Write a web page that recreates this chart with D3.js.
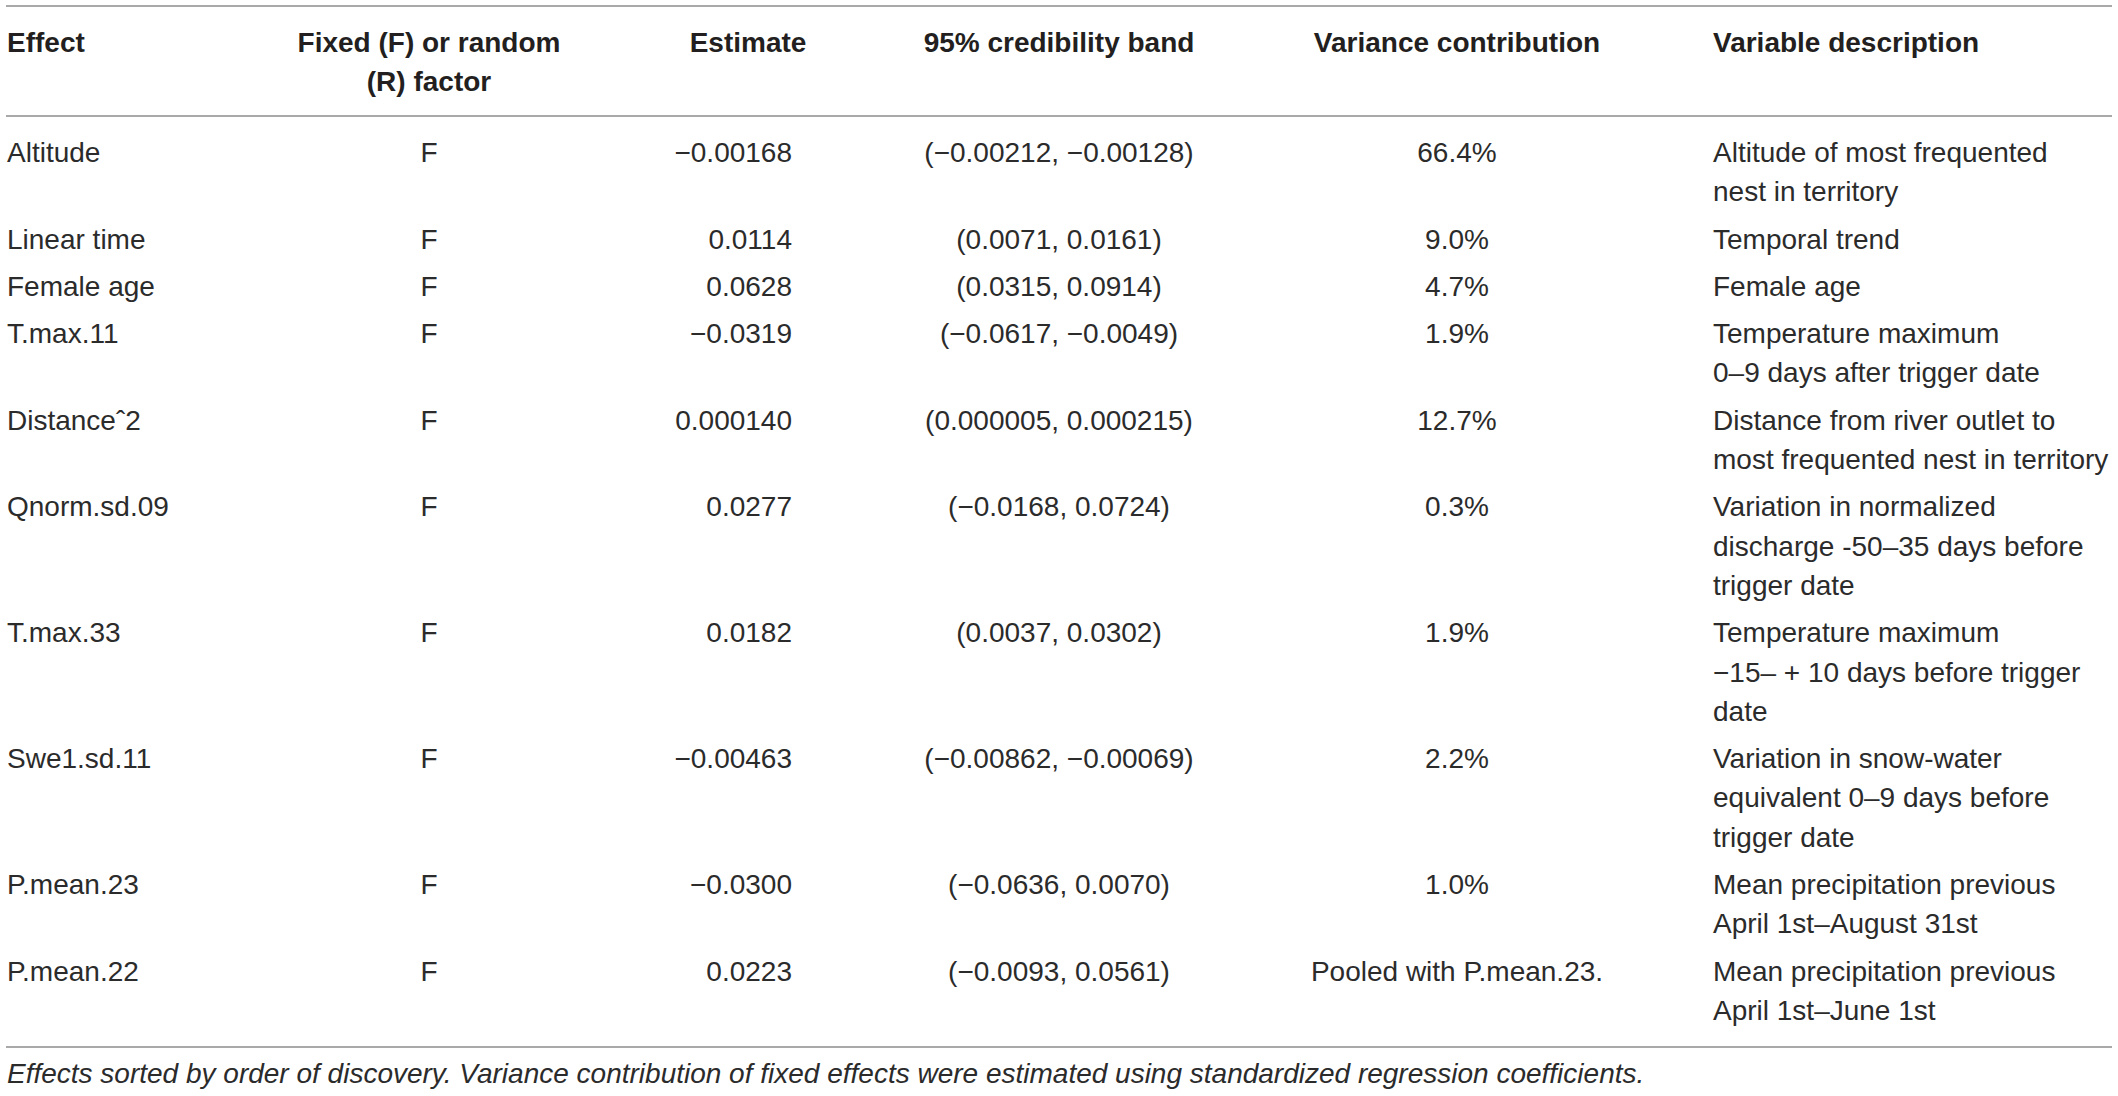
<!DOCTYPE html>
<html>
<head>
<meta charset="utf-8">
<script src="https://cdn.jsdelivr.net/npm/d3@7"></script>
<style>
  body { margin: 0; background: #fff; }
  svg text { font-family: "Liberation Sans", Arial, sans-serif; }
</style>
</head>
<body>
<div id="table"></div>
<script>
// Table content
const headers = [
    ["Effect"],
    ["Fixed (F) or random", "(R) factor"],
    ["Estimate"],
    ["95% credibility band"],
    ["Variance contribution"],
    ["Variable description"]
];
const effects = ["Altitude", "Linear time", "Female age", "T.max.11", "Distanceˆ2",
    "Qnorm.sd.09", "T.max.33", "Swe1.sd.11", "P.mean.23", "P.mean.22"];
const factors = ["F", "F", "F", "F", "F", "F", "F", "F", "F", "F"];
const estimates = ["−0.00168", "0.0114", "0.0628", "−0.0319", "0.000140",
    "0.0277", "0.0182", "−0.00463", "−0.0300", "0.0223"];
const bands = ["(−0.00212, −0.00128)", "(0.0071, 0.0161)", "(0.0315, 0.0914)",
    "(−0.0617, −0.0049)", "(0.000005, 0.000215)", "(−0.0168, 0.0724)",
    "(0.0037, 0.0302)", "(−0.00862, −0.00069)", "(−0.0636, 0.0070)", "(−0.0093, 0.0561)"];
const variances = ["66.4%", "9.0%", "4.7%", "1.9%", "12.7%", "0.3%", "1.9%", "2.2%",
    "1.0%", "Pooled with P.mean.23."];
const descriptions = [
    ["Altitude of most frequented", "nest in territory"],
    ["Temporal trend"],
    ["Female age"],
    ["Temperature maximum", "0–9 days after trigger date"],
    ["Distance from river outlet to", "most frequented nest in territory"],
    ["Variation in normalized", "discharge -50–35 days before", "trigger date"],
    ["Temperature maximum", "−15– + 10 days before trigger", "date"],
    ["Variation in snow-water", "equivalent 0–9 days before", "trigger date"],
    ["Mean precipitation previous", "April 1st–August 31st"],
    ["Mean precipitation previous", "April 1st–June 1st"]
];
const footnote = "Effects sorted by order of discovery. Variance contribution of fixed effects were estimated using standardized regression coefficients.";

const W = 2118, H = 1096;
const lineH = 39.3, rowPad = 8;
const fontSize = 28;
const textColor = "#2b2b2b";
const ruleColor = "#8c8c8c";

const svg = d3.select("#table").append("svg")
    .attr("width", W)
    .attr("height", H);

// column positions and alignment
const colKeys = ["effect", "factor", "estimate", "band", "variance", "desc"];
const colX = d3.scaleOrdinal().domain(colKeys).range([7, 429, 792, 1059, 1457, 1713]);
const colAnchor = d3.scaleOrdinal().domain(colKeys).range(["start", "middle", "end", "middle", "middle", "start"]);
const headX = d3.scaleOrdinal().domain(colKeys).range([7, 429, 748, 1059, 1457, 1713]);

// row positions from line counts
const nLines = descriptions.map(d => d.length);
const rowY = [];
let y0 = 162;
nLines.forEach((n, i) => {
    rowY.push(y0);
    y0 += n * lineH + rowPad;
});

// rules
const ruleY = [6, 116, 1047];
svg.selectAll("line.rule")
    .data(ruleY)
    .enter().append("line")
    .attr("class", "rule")
    .attr("x1", 6).attr("x2", 2112)
    .attr("y1", d => d).attr("y2", d => d)
    .attr("stroke", ruleColor)
    .attr("stroke-width", 1.6);

// header
const head = svg.append("g")
    .attr("font-size", fontSize)
    .attr("font-weight", "bold")
    .attr("fill", "#231f20");
headers.forEach((lines, c) => {
    const t = head.append("text")
        .attr("x", headX(colKeys[c]))
        .attr("y", 52)
        .attr("text-anchor", colAnchor(colKeys[c]) === "end" ? "middle" : colAnchor(colKeys[c]));
    lines.forEach((l, k) => {
        t.append("tspan")
            .attr("x", headX(colKeys[c]))
            .attr("y", 52 + k * lineH)
            .text(l);
    });
});

// body rows
const rows = effects.map((e, i) => ({
    effect: [e], factor: [factors[i]], estimate: [estimates[i]],
    band: [bands[i]], variance: [variances[i]], desc: descriptions[i], y: rowY[i]
}));

const body = svg.append("g")
    .attr("font-size", fontSize)
    .attr("fill", textColor);

const rowG = body.selectAll("g.row")
    .data(rows)
    .enter().append("g")
    .attr("class", "row")
    .attr("transform", d => `translate(0,${d.y})`);

colKeys.forEach(key => {
    rowG.append("text")
        .attr("x", colX(key))
        .attr("text-anchor", colAnchor(key))
        .each(function(d) {
            d3.select(this).selectAll("tspan")
                .data(d[key])
                .enter().append("tspan")
                .attr("x", colX(key))
                .attr("y", (l, k) => k * lineH)
                .text(l => l);
        });
});

// footnote
svg.append("text")
    .attr("x", 7)
    .attr("y", 1083)
    .attr("font-size", fontSize)
    .attr("font-style", "italic")
    .attr("fill", textColor)
    .text(footnote);
</script>
</body>
</html>
